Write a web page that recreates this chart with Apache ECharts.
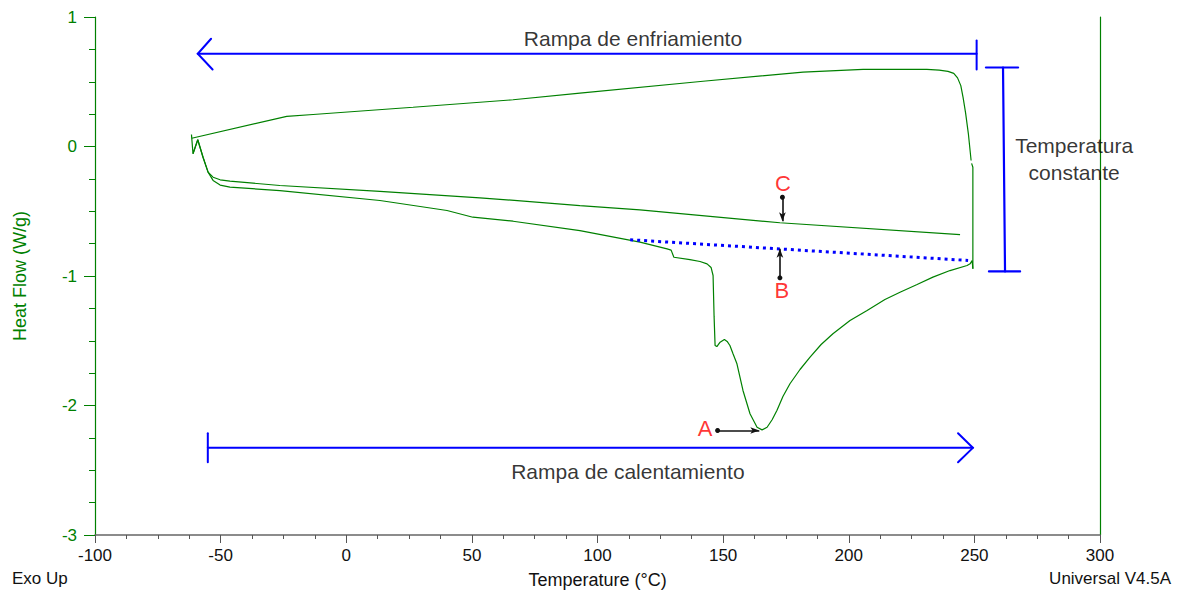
<!DOCTYPE html>
<html lang="es">
<head>
  <meta charset="UTF-8">
  <title>DSC - Heat Flow</title>
  <script src="https://cdn.jsdelivr.net/npm/echarts@6/dist/echarts.min.js"></script>
  <style>
    html, body, #main {
      margin: 0;
      padding: 0;
      width: 1184px;
      height: 594px;
      background: #fff;
    }
  </style>
</head>
<body>
  <div id="main"></div>

  <script>
    // curvas: [temperatura (°C), heat flow (W/g)]
    const calentamiento1 = [
      [-61.0, -0.056], [-59.1, 0.052], [-57.0, -0.083], [-55.0, -0.198], [-53.0, -0.262],
      [-50.2, -0.298], [-46.3, -0.314], [-26.4, -0.340], [13.4, -0.417], [40.1, -0.494],
      [50.4, -0.546], [66.4, -0.577], [93.0, -0.649], [116.9, -0.739], [127.7, -0.790],
      [129.3, -0.800], [130.4, -0.855], [136.8, -0.873], [140.8, -0.888], [143.6, -0.906],
      [145.2, -0.934], [146.0, -0.996], [146.4, -1.31], [146.8, -1.537], [147.5, -1.545],
      [148.8, -1.511], [150.5, -1.49], [151.6, -1.505], [152.7, -1.537], [153.9, -1.598],
      [155.5, -1.678], [157.9, -1.884], [160.7, -2.064], [163.5, -2.168], [165.5, -2.188],
      [167.5, -2.168], [169.5, -2.11], [171.4, -2.039], [173.8, -1.931], [176.6, -1.832],
      [180.6, -1.722], [184.6, -1.627], [189.0, -1.529], [193.7, -1.446], [200.5, -1.344],
      [207.3, -1.266], [214.4, -1.181], [220.4, -1.125], [227.2, -1.066], [233.5, -1.009],
      [240.3, -0.958], [247.1, -0.919], [248.3, -0.906], [249.1, -0.880], [249.4, -0.944]
    ];
    const isoterma = [[249.4, -0.944], [249.4, -0.16], [248.9, -0.13]];
    const enfriamiento = [
      [248.7, -0.108], [247.6, 0.10], [246.5, 0.26], [245.5, 0.38], [244.6, 0.47],
      [243.3, 0.53], [241.8, 0.565], [239.5, 0.58], [236.0, 0.59], [231.1, 0.595],
      [205.7, 0.595], [181.8, 0.574], [142.0, 0.504], [93.0, 0.412], [66.4, 0.361],
      [26.6, 0.303], [-13.2, 0.247], [-23.7, 0.232], [-61.5, 0.064]
    ];
    const calentamiento2 = [
      [-61.5, 0.064], [-61.6, 0.093], [-61.0, -0.056], [-59.1, 0.052], [-57.0, -0.083],
      [-55.0, -0.198], [-53.0, -0.237], [-50.2, -0.257], [-46.3, -0.268], [-26.4, -0.301],
      [13.4, -0.347], [53.2, -0.396], [93.0, -0.456], [116.9, -0.489], [172.6, -0.589],
      [244.3, -0.680]
    ];
    const lineaBase = [[113.0, -0.720], [247.5, -0.880]];

    // flechas y corchetes azules
    const flechaEnfriamiento = [
      [[-59.1, 0.716], [250.9, 0.716]],
      [[-53.8, 0.832], [-59.1, 0.716], [-53.2, 0.595]],
      [[250.9, 0.819], [250.9, 0.595]]
    ];
    const flechaCalentamiento = [
      [[-55.1, -2.327], [249.4, -2.327]],
      [[-55.1, -2.214], [-55.1, -2.438]],
      [[243.5, -2.214], [249.4, -2.327], [243.5, -2.438]]
    ];
    const corcheteIsoterma = [
      [[261.4, 0.610], [262.2, -0.965]],
      [[254.6, 0.610], [267.4, 0.610]],
      [[255.8, -0.965], [268.2, -0.965]]
    ];

    // flechas negras A, B, C: [desde, hasta]
    const flechasNegras = [
      [[147.8, -2.193], [164.4, -2.193]],
      [[172.6, -1.014], [172.6, -0.790]],
      [[173.6, -0.392], [173.6, -0.577]]
    ];

    const letras = ['A', 'B', 'C'];
    const letrasPos = [[142.8, -2.178], [173.4, -1.112], [173.8, -0.286]];

    const textos = ['Rampa de enfriamiento', 'Rampa de calentamiento', 'Temperatura\nconstante'];
    const textosPos = [[114.1, 0.834], [112.1, -2.510], [289.7, -0.097]];

    const xTicks = { min: -100, max: 300, interval: 50 };
    const yTicks = { min: -3, max: 1, interval: 1 };

    const verde = '#008000';
    const azul = '#0000ff';
    const fuente = "'Liberation Sans', Arial, sans-serif";

    function curva(data) {
      return {
        type: 'line', data: data, symbol: 'none', silent: true,
        lineStyle: { color: verde, width: 1.2 }, z: 3
      };
    }

    function trazos(lista, width) {
      return lista.map(pts => ({
        type: 'line', data: pts, symbol: 'none', silent: true, clip: false,
        lineStyle: { color: azul, width: width, cap: 'round', join: 'miter' }, z: 4
      }));
    }

    const series = [
      curva(calentamiento1),
      curva(isoterma),
      curva(enfriamiento),
      curva(calentamiento2),
      {
        type: 'line', data: lineaBase, symbol: 'none', silent: true,
        lineStyle: { color: azul, width: 3, type: [3, 4], cap: 'butt' }, z: 4
      },
      ...trazos(flechaEnfriamiento, 2),
      ...trazos(flechaCalentamiento, 2),
      ...trazos(corcheteIsoterma, 2.2),
      {
        type: 'line', data: [], symbol: 'none', silent: true,
        markLine: {
          silent: true,
          animation: false,
          symbol: ['circle', 'arrow'],
          symbolSize: [5, 9],
          label: { show: false },
          lineStyle: { color: '#111', width: 1.6, type: 'solid' },
          data: flechasNegras.map(p => [{ coord: p[0] }, { coord: p[1] }])
        }
      },
      {
        type: 'scatter', symbolSize: 0, silent: true, clip: false, z: 6,
        data: letras.map((t, i) => ({ name: t, value: letrasPos[i] })),
        label: {
          show: true, position: 'inside', formatter: '{b}',
          color: '#ff0000', fontSize: 22, fontFamily: fuente
        }
      },
      {
        type: 'scatter', symbolSize: 0, silent: true, clip: false, z: 6,
        data: textos.map((t, i) => ({ name: t, value: textosPos[i] })),
        label: {
          show: true, position: 'inside', formatter: '{b}',
          color: '#000', fontSize: 21, lineHeight: 27, fontFamily: fuente,
          align: 'center'
        }
      }
    ];

    const chart = echarts.init(document.getElementById('main'), null, { renderer: 'svg' });
    chart.setOption({
      animation: false,
      backgroundColor: '#fff',
      textStyle: { fontFamily: fuente },
      grid: { left: 95, right: 84, top: 17, bottom: 59, containLabel: false },
      xAxis: {
        type: 'value',
        min: xTicks.min, max: xTicks.max, interval: xTicks.interval,
        name: 'Temperature (°C)',
        nameLocation: 'middle',
        nameGap: 36,
        nameTextStyle: { color: '#111', fontSize: 18, fontFamily: fuente },
        axisLine: { show: true, onZero: false, lineStyle: { color: '#666', width: 1.5 } },
        axisTick: { show: true, length: 8, lineStyle: { color: '#555' } },
        minorTick: { show: true, splitNumber: 4, length: 4, lineStyle: { color: '#555' } },
        axisLabel: { color: '#111', fontSize: 17, margin: 12, fontFamily: fuente },
        splitLine: { show: false }
      },
      yAxis: [
        {
          type: 'value',
          min: yTicks.min, max: yTicks.max, interval: yTicks.interval,
          name: 'Heat Flow (W/g)',
          nameLocation: 'middle',
          nameGap: 66,
          nameRotate: 90,
          nameTextStyle: { color: verde, fontSize: 18, fontFamily: fuente },
          axisLine: { show: true, onZero: false, lineStyle: { color: verde, width: 1.2 } },
          axisTick: { show: true, length: 11, lineStyle: { color: verde } },
          minorTick: { show: true, splitNumber: 4, length: 6, lineStyle: { color: verde } },
          axisLabel: { color: verde, fontSize: 17, margin: 18, fontFamily: fuente },
          splitLine: { show: false }
        },
        {
          type: 'value', position: 'right',
          min: yTicks.min, max: yTicks.max,
          axisLine: { show: true, onZero: false, lineStyle: { color: verde, width: 1.2 } },
          axisTick: { show: false },
          axisLabel: { show: false },
          splitLine: { show: false }
        }
      ],
      graphic: [
        {
          type: 'text', left: 12, top: 570,
          style: { text: 'Exo Up', fill: '#111', font: "17px 'Liberation Sans', Arial, sans-serif" }
        },
        {
          type: 'text', right: 13, top: 570,
          style: { text: 'Universal V4.5A', fill: '#111', font: "17px 'Liberation Sans', Arial, sans-serif" }
        }
      ],
      series: series
    });
  </script>
</body>
</html>
